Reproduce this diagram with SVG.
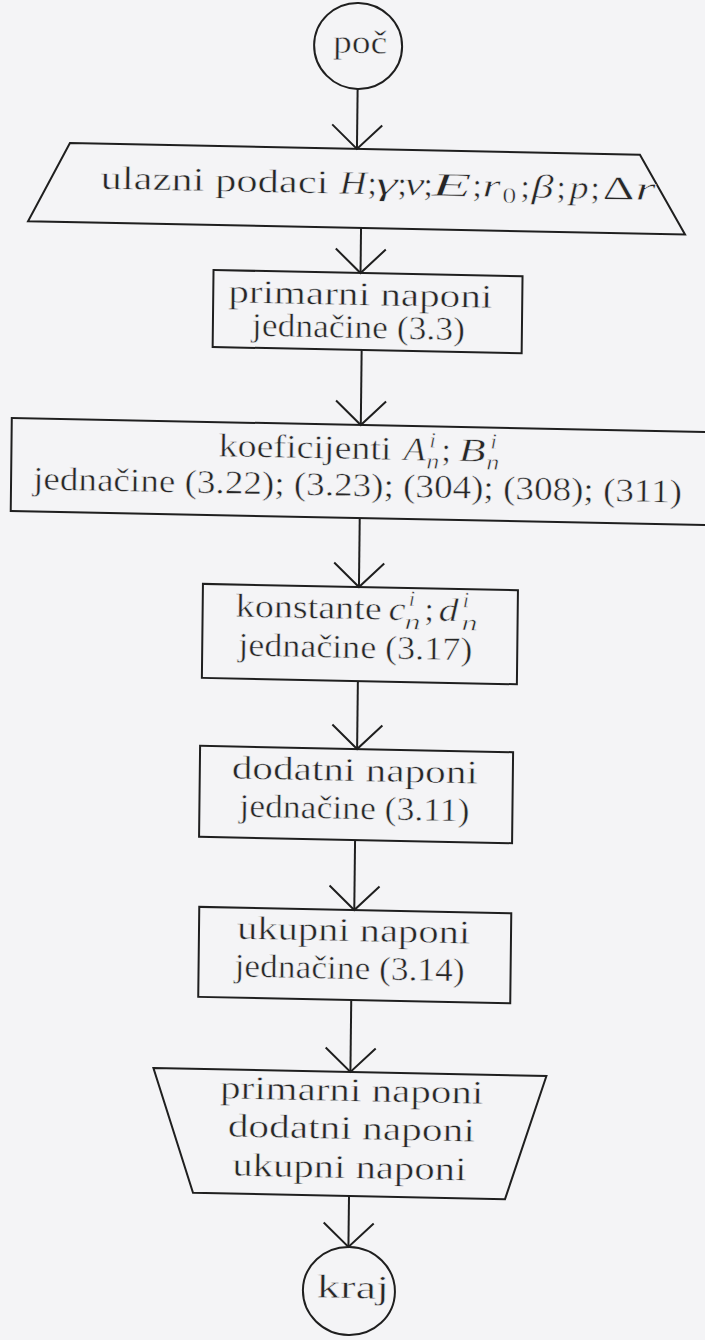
<svg xmlns="http://www.w3.org/2000/svg" width="705" height="1340" viewBox="0 0 705 1340">
<defs>
<style>
.bg{fill:#f4f4f6}
.sh{fill:none;stroke:#1f1f1f;stroke-width:2;stroke-linejoin:miter}
.cn{fill:none;stroke:#1f1f1f;stroke-width:2}
text{font-family:"Liberation Serif","Times New Roman",serif;font-size:33px;fill:#262626;stroke:#f4f4f6;stroke-width:0.5px}
.i{font-style:italic}
.s{font-size:22px}
</style>
<marker id="v" viewBox="-27 -27 30 54" refX="0" refY="0" markerWidth="30" markerHeight="54" markerUnits="userSpaceOnUse" orient="auto">
<path d="M-24,-25 L0,0 L-24,25" fill="none" stroke="#1f1f1f" stroke-width="2"/>
</marker>
</defs>
<rect class="bg" width="705" height="1340"/>
<g transform="matrix(1 0.0203 -0.0114 1 7.64 -7.23)">
<g id="connectors">
<line class="cn" x1="351" y1="89" x2="351" y2="149" marker-end="url(#v)"/>
<line class="cn" x1="356" y1="228" x2="356" y2="273" marker-end="url(#v)"/>
<line class="cn" x1="358" y1="350" x2="358" y2="425" marker-end="url(#v)"/>
<line class="cn" x1="358" y1="518" x2="358" y2="587" marker-end="url(#v)"/>
<line class="cn" x1="358" y1="681" x2="358" y2="749" marker-end="url(#v)"/>
<line class="cn" x1="357" y1="840" x2="357" y2="910" marker-end="url(#v)"/>
<line class="cn" x1="355" y1="1000" x2="355" y2="1072" marker-end="url(#v)"/>
<line class="cn" x1="355" y1="1196" x2="355" y2="1247" marker-end="url(#v)"/>
</g>
<g id="n-poc">
<ellipse class="sh" cx="351" cy="46" rx="44" ry="43"/>
<text x="326" y="53" textLength="54" lengthAdjust="spacingAndGlyphs">poč</text>
</g>
<g id="n-ulaz">
<polygon class="sh" points="64,149 634,149 680,228 23,228"/>
<text x="95" y="194" textLength="228" lengthAdjust="spacingAndGlyphs">ulazni podaci</text>
<text class="i" x="334" y="194" textLength="27" lengthAdjust="spacingAndGlyphs">H</text>
<text x="362" y="194">;</text>
<text class="i" x="370" y="194" textLength="22" lengthAdjust="spacingAndGlyphs">γ</text>
<text x="392" y="194">;</text>
<text class="i" x="399" y="194" textLength="20" lengthAdjust="spacingAndGlyphs">ν</text>
<text x="418" y="194">;</text>
<text class="i" x="426" y="194" textLength="40" lengthAdjust="spacingAndGlyphs">E</text>
<text x="467" y="194">;</text>
<text class="i" x="477" y="194" textLength="18" lengthAdjust="spacingAndGlyphs">r</text>
<text class="s" x="497" y="200" textLength="14" lengthAdjust="spacingAndGlyphs">0</text>
<text x="515" y="194">;</text>
<text class="i" x="526" y="194" textLength="22" lengthAdjust="spacingAndGlyphs">β</text>
<text x="551" y="194">;</text>
<text class="i" x="564" y="194" textLength="19" lengthAdjust="spacingAndGlyphs">p</text>
<text x="585" y="194">;</text>
<text x="597" y="194" textLength="32" lengthAdjust="spacingAndGlyphs">Δ</text>
<text class="i" x="630" y="194" textLength="20" lengthAdjust="spacingAndGlyphs">r</text>
</g>
<g id="n-primarni">
<rect class="sh" x="209" y="273" width="309" height="77"/>
<text x="224" y="305" textLength="264" lengthAdjust="spacingAndGlyphs">primarni naponi</text>
<text x="248" y="338" textLength="213" lengthAdjust="spacingAndGlyphs">jednačine (3.3)</text>
</g>
<g id="n-koef">
<rect class="sh" x="9" y="425" width="705" height="93"/>
<text x="216" y="459" textLength="173" lengthAdjust="spacingAndGlyphs">koeficijenti</text>
<text class="i" x="401" y="459" textLength="22" lengthAdjust="spacingAndGlyphs">A</text>
<text class="i s" x="427" y="446">i</text>
<text class="i s" x="424" y="467" textLength="13" lengthAdjust="spacingAndGlyphs">n</text>
<text x="439" y="459">;</text>
<text class="i" x="456" y="459" textLength="27" lengthAdjust="spacingAndGlyphs">B</text>
<text class="i s" x="488" y="446">i</text>
<text class="i s" x="484" y="467" textLength="13" lengthAdjust="spacingAndGlyphs">n</text>
<text x="31" y="496" textLength="649" lengthAdjust="spacingAndGlyphs">jednačine (3.22); (3.23); (304); (308); (311)</text>
</g>
<g id="n-konst">
<rect class="sh" x="202" y="587" width="315" height="94"/>
<text x="235" y="619" textLength="146" lengthAdjust="spacingAndGlyphs">konstante</text>
<text class="i" x="388" y="619" textLength="17" lengthAdjust="spacingAndGlyphs">c</text>
<text class="i s" x="408" y="605">i</text>
<text class="i s" x="404" y="628" textLength="16" lengthAdjust="spacingAndGlyphs">n</text>
<text x="424" y="619">;</text>
<text class="i" x="438" y="619" textLength="20" lengthAdjust="spacingAndGlyphs">d</text>
<text class="i s" x="462" y="605">i</text>
<text class="i s" x="461" y="628" textLength="16" lengthAdjust="spacingAndGlyphs">n</text>
<text x="238" y="658" textLength="234" lengthAdjust="spacingAndGlyphs">jednačine (3.17)</text>
</g>
<g id="n-dodatni">
<rect class="sh" x="201" y="749" width="313" height="91"/>
<text x="233" y="781" textLength="246" lengthAdjust="spacingAndGlyphs">dodatni naponi</text>
<text x="241" y="819" textLength="230" lengthAdjust="spacingAndGlyphs">jednačine (3.11)</text>
</g>
<g id="n-ukupni">
<rect class="sh" x="202" y="910" width="312" height="90"/>
<text x="240" y="941" textLength="233" lengthAdjust="spacingAndGlyphs">ukupni naponi</text>
<text x="238" y="979" textLength="230" lengthAdjust="spacingAndGlyphs">jednačine (3.14)</text>
</g>
<g id="n-izlaz">
<polygon class="sh" points="158,1072 551,1072 511,1196 199,1196"/>
<text x="225" y="1101" textLength="263" lengthAdjust="spacingAndGlyphs">primarni naponi</text>
<text x="233" y="1139" textLength="247" lengthAdjust="spacingAndGlyphs">dodatni naponi</text>
<text x="238" y="1178" textLength="234" lengthAdjust="spacingAndGlyphs">ukupni naponi</text>
</g>
<g id="n-kraj">
<ellipse class="sh" cx="356" cy="1291" rx="46" ry="44"/>
<text x="324" y="1298" textLength="72" lengthAdjust="spacingAndGlyphs">kraj</text>
</g>
</g>
</svg>
